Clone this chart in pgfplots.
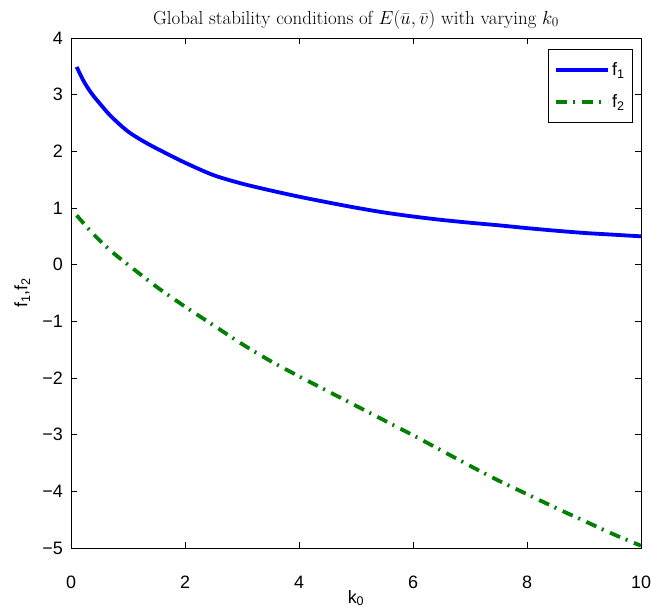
\documentclass[border=0pt]{standalone}
\usepackage{fix-cm}
\usepackage{pgfplots}
\pgfplotsset{compat=1.18}
\usepackage{fontspec}
\newfontfamily\hel{Liberation Sans}
\definecolor{mgreen}{rgb}{0,0.5,0}
\begin{document}
\begin{tikzpicture}
\path[use as bounding box] (-71bp,-63bp) rectangle (580bp,548bp);
\begin{axis}[
  at={(0,0)}, anchor=south west,
  scale only axis, width=570bp, height=510bp,
  xmin=0, xmax=10, ymin=-5, ymax=4,
  xtick={0,2,...,10},
  ytick={-5,-4,...,4},
  yticklabels={−5,−4,−3,−2,−1,0,1,2,3,4},
  /pgf/number format/assume math mode=true,
  tick align=inside,
  major tick length=6bp,
  tick style={black, line width=0.6bp},
  axis line style={black, line width=0.8bp},
  tick label style={font=\hel\fontsize{18}{20}\selectfont},
  yticklabel style={inner sep=0pt, xshift=-8bp},
  xticklabel style={inner sep=0pt, yshift=-28bp},
  title={\fontsize{19}{22}\selectfont Global stability conditions of $E(\bar{u},\bar{v})$ with varying $k_0$},
  title style={inner sep=0pt, yshift=3bp},
  xlabel={k\textsubscript{0}},
  ylabel={f\textsubscript{1},f\textsubscript{2}},
  label style={font=\hel\fontsize{18}{20}\selectfont},
  xlabel style={inner sep=0pt, yshift=-1bp},
  ylabel style={inner sep=0pt, yshift=12bp},
  legend style={at={(1,1)}, anchor=north east, xshift=-8bp, yshift=-11bp,
    font=\hel\fontsize{18}{20}\selectfont, draw=black, line width=0.8bp,
    inner xsep=6bp, inner ysep=11bp, row sep=14bp},
  legend cell align=left,
  legend image code/.code={\draw[#1] (0bp,0bp) -- (52bp,0bp);},
]
\addplot[blue, line width=3.8bp, smooth, tension=0.5] coordinates {
(0.1,3.49) (0.2,3.28) (0.3,3.11) (0.4,2.97) (0.5,2.85) (0.7,2.62)
(1.0,2.35) (1.3,2.16) (1.6,2.00) (2.0,1.80) (2.5,1.58) (3.0,1.43)
(3.5,1.31) (4.0,1.20) (4.5,1.10) (5.0,1.005) (5.5,0.92) (6.0,0.85)
(6.5,0.79) (7.0,0.74) (7.5,0.695) (8.0,0.645) (8.5,0.60) (9.0,0.56)
(9.5,0.53) (10,0.50)};
\addlegendentry{f\textsubscript{1}}
\addplot[mgreen, line width=3.8bp, smooth, tension=0.5, dash pattern=on 11bp off 6bp on 2bp off 7bp] coordinates {
(0.1,0.87) (0.3,0.64) (0.5,0.43) (0.75,0.20) (1.0,0.0) (1.5,-0.39)
(2.0,-0.74) (2.5,-1.07) (3.0,-1.40) (3.5,-1.70) (4.0,-1.97) (4.5,-2.23)
(5.0,-2.49) (5.5,-2.75) (6.0,-3.01) (6.5,-3.28) (7.0,-3.55) (7.5,-3.81)
(8.0,-4.05) (8.5,-4.29) (9.0,-4.52) (9.5,-4.75) (10,-4.96)};
\addlegendentry{f\textsubscript{2}}
\end{axis}
\end{tikzpicture}
\end{document}
